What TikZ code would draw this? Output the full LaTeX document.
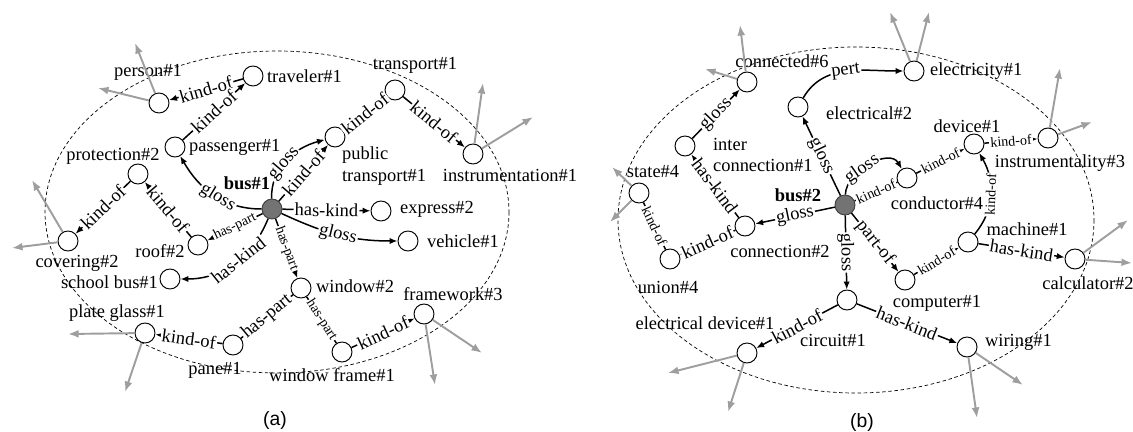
\documentclass[tikz,border=0pt]{standalone}
\usepackage{fontspec}
\setmainfont{Liberation Serif}
\newfontfamily\capfont{Liberation Sans}
\usetikzlibrary{arrows.meta}
\begin{document}
\begin{tikzpicture}[x=0.02cm, y=-0.02cm,
        concept/.style={circle, draw, line width=0.55pt, minimum size=0.4cm, inner sep=0pt, fill=white},
        hub/.style={concept, fill=black!55, draw=black!75},
        word/.style={font=\fontsize{10.5}{12.5}\selectfont, inner sep=1pt},
        rel/.style={line width=0.85pt, -{Latex[length=4.5pt,width=3.6pt]}},
        relline/.style={line width=0.85pt},
        elab/.style={fill=white, inner sep=0.7pt, sloped, font=\fontsize{10.5}{10.5}\selectfont},
        slab/.style={elab, font=\fontsize{8}{8}\selectfont},
        ext/.style={draw=black!38, line width=1.1pt, -{Latex[length=6pt,width=4.5pt]}},
        halo/.style={line width=0.4pt, dash pattern=on 2pt off 1.5pt}]
        % frame of the picture
        \useasboundingbox (0,0) rectangle (1133,432);
        % the two dashed neighbourhoods
        \draw[halo] (277,212) ellipse [x radius=232, y radius=161];
        \draw[halo] (856,220) ellipse [x radius=238, y radius=173];

        % concepts round bus#1
        \node[hub]     (busone)          at (272,209) {};
        \node[concept] (person)          at (159,103) {};
        \node[concept] (traveler)        at (253,76)  {};
        \node[concept] (passenger)       at (175,147) {};
        \node[concept] (protection)      at (138,174) {};
        \node[concept] (transport)       at (395,90)  {};
        \node[concept] (publictransport) at (335,137) {};
        \node[concept] (instrumentation) at (473,154) {};
        \node[concept] (express)         at (381,211) {};
        \node[concept] (vehicle)         at (408,241) {};
        \node[concept] (windowtwo)       at (301,288) {};
        \node[concept] (framework)       at (424,314) {};
        \node[concept] (windowframe)     at (342,352) {};
        \node[concept] (covering)        at (68,241)  {};
        \node[concept] (roof)            at (198,245) {};
        \node[concept] (schoolbus)       at (170,279) {};
        \node[concept] (plateglass)      at (145,333) {};
        \node[concept] (pane)            at (233,345) {};
        % names of the concepts round bus#1
        \node[word] (busonelabel)          at (247,183) {\textbf{bus\#1}};
        \node[word] (personlabel)          at (148,72)  {person\#1};
        \node[word, anchor=west] (travelerlabel)  at (265,76)  {traveler\#1};
        \node[word, anchor=west] (passengerlabel) at (187,147) {passenger\#1};
        \node[word] (protectionlabel)      at (113,156) {protection\#2};
        \node[word] (transportlabel)       at (415,65)  {transport\#1};
        \node[word, anchor=west, align=left] (publictransportlabel) at (340,166) {public\\transport\#1};
        \node[word] (instrumentationlabel) at (510,175) {instrumentation\#1};
        \node[word, anchor=west] (expresslabel)   at (398,209) {express\#2};
        \node[word, anchor=west] (vehiclelabel)   at (425,241) {vehicle\#1};
        \node[word, anchor=west] (windowtwolabel) at (314,286) {window\#2};
        \node[word] (frameworklabel)       at (453,294) {framework\#3};
        \node[word] (windowframelabel)     at (332,375) {window frame\#1};
        \node[word] (coveringlabel)        at (77,263)  {covering\#2};
        \node[word] (rooflabel)            at (160,251) {roof\#2};
        \node[word, anchor=east] (schoolbuslabel) at (160,282) {school bus\#1};
        \node[word] (plateglasslabel)      at (117,313) {plate glass\#1};
        \node[word] (panelabel)            at (215,370) {pane\#1};
        \node[font=\capfont\fontsize{11}{12}\selectfont] (capa) at (275,420) {(a)};
        % relations round bus#1
        \draw[rel] (traveler)  -- node[elab] {kind-of} (person);
        \draw[rel] (passenger) -- node[elab] {kind-of} (traveler);
        \draw[rel] (busone) to[out=180, in=-60] node[elab, pos=0.45] {gloss} (passenger);
        \draw[rel] (busone) to[out=92, in=195] node[elab, pos=0.45] {gloss} (publictransport);
        \draw[rel] (busone) -- node[elab] {kind-of} (publictransport);
        \draw[relline] (publictransport) -- node[elab] {kind-of} (transport);
        \draw[rel] (transport) -- node[elab] {kind-of} (instrumentation);
        \draw[rel] (busone) -- node[elab] {has-kind} (express);
        \draw[rel] (busone) to[out=-25, in=180] node[elab, pos=0.5] {gloss} (vehicle);
        \draw[rel] (busone) -- node[slab] {has-part} (roof);
        \draw[rel] (roof) -- node[elab] {kind-of} (protection);
        \draw[rel] (protection) -- node[elab] {kind-of} (covering);
        \draw[rel] (busone) to[out=-112, in=0] node[elab, pos=0.45] {has-kind} (schoolbus);
        \draw[rel] (busone) -- node[slab] {has-part} (windowtwo);
        \draw[relline] (windowtwo) -- node[elab] {has-part} (pane);
        \draw[relline] (windowtwo) -- node[slab] {has-part} (windowframe);
        \draw[rel] (windowframe) -- node[elab] {kind-of} (framework);
        \draw[rel] (pane) -- node[elab] {kind-of} (plateglass);
        % links leaving the neighbourhood of bus#1
        \coordinate (personup)          at (135,43);
        \coordinate (personleft)        at (98,88);
        \coordinate (coveringup)        at (32,180);
        \coordinate (coveringleft)      at (12,248);
        \coordinate (instrumentationup) at (483,83);
        \coordinate (instrumentationright) at (533,117);
        \coordinate (plateglassleft)    at (68,334);
        \coordinate (plateglassdown)    at (125,392);
        \coordinate (frameworkdown)     at (435,385);
        \coordinate (frameworkright)    at (482,353);
        \draw[ext] (person)          -- (personup);
        \draw[ext] (person)          -- (personleft);
        \draw[ext] (covering)        -- (coveringup);
        \draw[ext] (covering)        -- (coveringleft);
        \draw[ext] (instrumentation) -- (instrumentationup);
        \draw[ext] (instrumentation) -- (instrumentationright);
        \draw[ext] (plateglass)      -- (plateglassleft);
        \draw[ext] (plateglass)      -- (plateglassdown);
        \draw[ext] (framework)       -- (frameworkdown);
        \draw[ext] (framework)       -- (frameworkright);

        % concepts round bus#2
        \node[hub]     (bustwo)           at (845,205) {};
        \node[concept] (connected)        at (747,82)  {};
        \node[concept] (electricaltwo)    at (798,107) {};
        \node[concept] (electricity)      at (914,71)  {};
        \node[concept] (interconnection)  at (685,146) {};
        \node[concept] (state)            at (639,193) {};
        \node[concept] (device)           at (974,144) {};
        \node[concept] (instrumentality)  at (1048,138) {};
        \node[concept] (conductor)        at (907,178) {};
        \node[concept] (machine)          at (968,242) {};
        \node[concept] (calculator)       at (1075,259) {};
        \node[concept] (computer)         at (905,280) {};
        \node[concept] (circuit)          at (847,300) {};
        \node[concept] (wiring)           at (967,347) {};
        \node[concept] (connectiontwo)    at (745,226) {};
        \node[concept] (union)            at (670,259) {};
        \node[concept] (electricaldevice) at (747,353) {};
        % names of the concepts round bus#2
        \node[word] (bustwolabel)          at (798,195) {\textbf{bus\#2}};
        \node[word] (connectedlabel)       at (782,61)  {connected\#6};
        \node[word, anchor=west] (electricaltwolabel) at (824,113) {electrical\#2};
        \node[word, anchor=west] (electricitylabel)   at (928,71)  {electricity\#1};
        \node[word, anchor=west, align=left] (interconnectionlabel) at (711,155) {inter\\connection\#1};
        \node[word] (statelabel)           at (653,172) {state\#4};
        \node[word] (devicelabel)          at (967,126) {device\#1};
        \node[word] (instrumentalitylabel) at (1060,163) {instrumentality\#3};
        \node[word] (conductorlabel)       at (937,203) {conductor\#4};
        \node[word] (machinelabel)         at (1027,229) {machine\#1};
        \node[word] (calculatorlabel)      at (1088,283) {calculator\#2};
        \node[word] (computerlabel)        at (937,303) {computer\#1};
        \node[word] (circuitlabel)         at (833,340) {circuit\#1};
        \node[word, anchor=west] (wiringlabel) at (983,342) {wiring\#1};
        \node[word] (connectiontwolabel)   at (780,251) {connection\#2};
        \node[word] (unionlabel)           at (668,287) {union\#4};
        \node[word] (electricaldevicelabel) at (705,323) {electrical device\#1};
        \node[font=\capfont\fontsize{11}{12}\selectfont] (capb) at (862,422) {(b)};
        % relations round bus#2
        \draw[rel] (electricaltwo) to[out=60, in=180] node[elab, pos=0.5] {pert} (electricity);
        \draw[rel] (interconnection) -- node[elab] {gloss} (connected);
        \draw[rel] (connectiontwo) -- node[elab] {has-kind} (interconnection);
        \draw[rel] (bustwo) -- node[elab] {gloss} (electricaltwo);
        \draw[rel] (bustwo) -- node[elab] {gloss} (connectiontwo);
        \draw[rel] (connectiontwo) -- node[elab] {kind-of} (union);
        \draw[relline] (state) -- node[slab] {kind-of} (union);
        \draw[rel] (bustwo) to[out=88, in=120] node[elab, pos=0.4] {gloss} (conductor);
        \draw[relline] (bustwo) -- node[slab] {kind-of} (conductor);
        \draw[rel] (conductor) -- node[slab] {kind-of} (device);
        \draw[rel] (device) -- node[slab] {kind-of} (instrumentality);
        \draw[rel] (machine) to[out=50, in=-60] node[slab, pos=0.5] {kind-of} (device);
        \draw[rel] (bustwo) -- node[elab] {part-of} (computer);
        \draw[rel] (computer) -- node[slab] {kind-of} (machine);
        \draw[rel] (machine) -- node[elab] {has-kind} (calculator);
        \draw[rel] (bustwo) -- node[elab] {gloss} (circuit);
        \draw[rel] (circuit) -- node[elab] {kind-of} (electricaldevice);
        \draw[rel] (circuit) -- node[elab] {has-kind} (wiring);
        % links leaving the neighbourhood of bus#2
        \coordinate (connectedup)        at (740,25);
        \coordinate (connectedleft)      at (705,69);
        \coordinate (electricityleft)    at (890,12);
        \coordinate (electricityright)   at (929,12);
        \coordinate (instrumentalityup)  at (1060,68);
        \coordinate (instrumentalityright) at (1092,122);
        \coordinate (stateup)            at (612,167);
        \coordinate (statedown)          at (610,222);
        \coordinate (calculatorup)       at (1128,220);
        \coordinate (calculatorright)    at (1132,263);
        \coordinate (wiringdown)         at (977,418);
        \coordinate (wiringright)        at (1023,385);
        \coordinate (electricaldeviceleft) at (668,373);
        \coordinate (electricaldevicedown) at (728,412);
        \draw[ext] (connected)        -- (connectedup);
        \draw[ext] (connected)        -- (connectedleft);
        \draw[ext] (electricity)      -- (electricityleft);
        \draw[ext] (electricity)      -- (electricityright);
        \draw[ext] (instrumentality)  -- (instrumentalityup);
        \draw[ext] (instrumentality)  -- (instrumentalityright);
        \draw[ext] (state)            -- (stateup);
        \draw[ext] (state)            -- (statedown);
        \draw[ext] (calculator)       -- (calculatorup);
        \draw[ext] (calculator)       -- (calculatorright);
        \draw[ext] (wiring)           -- (wiringdown);
        \draw[ext] (wiring)           -- (wiringright);
        \draw[ext] (electricaldevice) -- (electricaldeviceleft);
        \draw[ext] (electricaldevice) -- (electricaldevicedown);
\end{tikzpicture}
\end{document}
